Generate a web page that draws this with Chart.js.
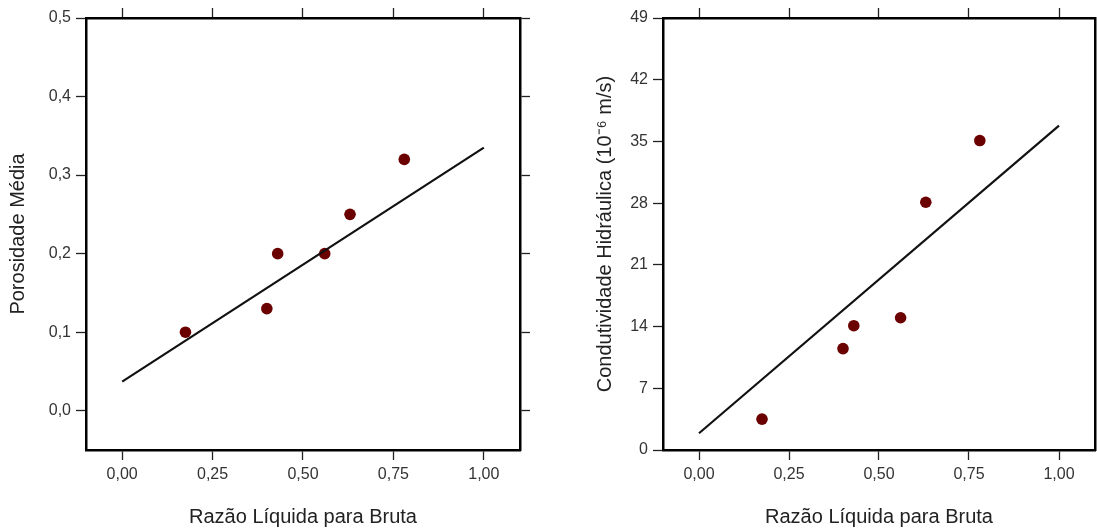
<!DOCTYPE html>
<html>
<head>
<meta charset="utf-8">
<script src="https://cdn.jsdelivr.net/npm/chart.js@4/dist/chart.umd.min.js"></script>
<style>
  html, body { margin: 0; padding: 0; background: #fff; }
  #wrap { position: relative; width: 1097px; height: 529px; overflow: hidden; }
  canvas { position: absolute; top: 0; }
</style>
</head>
<body>
<div id="wrap">
  <canvas id="porosity" width="540" height="529" style="left:0"></canvas>
  <canvas id="conductivity" width="562" height="529" style="left:540px"></canvas>
</div>
<script>
    // dados
    const ntgValues = [0.175, 0.40, 0.43, 0.56, 0.63, 0.78];
    const porosityValues = [0.10, 0.13, 0.20, 0.20, 0.25, 0.32];
    const conductivityValues = [3.5, 11.5, 14.1, 15.0, 28.1, 35.1];

    // retas de regressão (extremos)
    const fitX = [0, 1];
    const porosityFit = [0.037, 0.335];
    const conductivityFit = [1.9, 36.8];

    const xTicks = [0, 0.25, 0.5, 0.75, 1];
    const porosityTicks = [0, 0.1, 0.2, 0.3, 0.4, 0.5];
    const conductivityTicks = [0, 7, 14, 21, 28, 35, 42, 49];

    const xTitle = 'Razão Líquida para Bruta';
    const porosityTitle = 'Porosidade Média';
    const conductivityTitle = 'Condutividade Hidráulica (10\u207B\u2076 m/s)';

    const DOT = '#6b0000';
    const FONT = 'Arial, "Liberation Sans", sans-serif';

    function toPoints(xs, ys) {
        return xs.map((x, i) => ({ x: x, y: ys[i] }));
    }

    function fixed(list) {
        return (scale) => { scale.ticks = list.map(v => ({ value: v })); };
    }

    function makeAxis(pos, size, list, fmt, title, titlePad, min, max, noTicks) {
        const grid = { drawOnChartArea: false, drawTicks: !noTicks, tickLength: 10, tickColor: '#222', tickWidth: 1.3 };
        return {
            type: 'linear',
            position: pos,
            min: min,
            max: max,
            afterBuildTicks: fixed(list),
            afterFit: (s) => {
                if (pos === 'left' || pos === 'right') s.width = size; else s.height = size;
            },
            grid: grid,
            border: { display: true, color: '#000', width: 2.5 },
            ticks: { display: !!fmt, callback: fmt || (() => ''), color: '#333', padding: 5,
                     font: { family: FONT, size: 16 } },
            title: { display: !!title, text: title || '', color: '#222',
                     font: { family: FONT, size: 20 }, padding: titlePad || 0 }
        };
    }

    function makeChart(id, yValues, yFit, yTicks, yMin, yMax, yFmt, yTitle, leftWidth, rightWidth, yTitlePad, hideRightTicks) {
        const fmtX = (v) => v.toFixed(2).replace('.', ',');
        return new Chart(document.getElementById(id), {
            type: 'scatter',
            data: {
                datasets: [{
                    type: 'line',
                    data: toPoints(fitX, yFit),
                    borderColor: '#111',
                    borderWidth: 2.2,
                    pointRadius: 0,
                    fill: false,
                    tension: 0
                }, {
                    data: toPoints(ntgValues, yValues),
                    backgroundColor: DOT,
                    borderColor: DOT,
                    pointRadius: 5.8,
                    borderWidth: 0
                }]
            },
            options: {
                responsive: false,
                animation: false,
                devicePixelRatio: 1,
                layout: { padding: 0 },
                plugins: { legend: { display: false }, tooltip: { enabled: false } },
                scales: {
                    x: makeAxis('bottom', 79, xTicks, fmtX, xTitle, { top: 0, bottom: 0 }, -0.1, 1.1),
                    x2: makeAxis('top', 18, xTicks, null, null, 0, -0.1, 1.1),
                    y: makeAxis('left', leftWidth, yTicks, yFmt, yTitle, { top: yTitlePad, bottom: 0 }, yMin, yMax),
                    y2: makeAxis('right', rightWidth, yTicks, null, null, 0, yMin, yMax, hideRightTicks)
                }
            }
        });
    }

    makeChart('porosity', porosityValues, porosityFit, porosityTicks, -0.05, 0.5,
        (v) => v.toFixed(1).replace('.', ','), porosityTitle, 86, 20, 6, false);

    makeChart('conductivity', conductivityValues, conductivityFit, conductivityTicks, 0, 49,
        (v) => String(v), conductivityTitle, 123, 7, 53, true);
</script>
</body>
</html>
